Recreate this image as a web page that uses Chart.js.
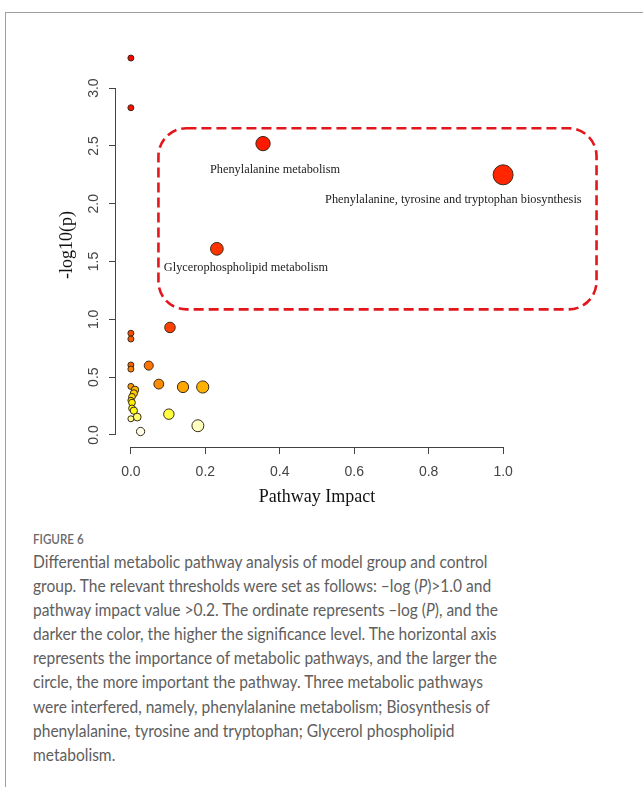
<!DOCTYPE html>
<html>
<head>
<meta charset="utf-8">
<script src="https://cdn.jsdelivr.net/npm/chart.js@4.4.1/dist/chart.umd.min.js"></script>
<style>
  html, body { margin: 0; padding: 0; background: #fff; }
  body { width: 643px; height: 787px; position: relative; overflow: hidden; }
  #frame { position: absolute; left: 5px; top: 12px; width: 660px; height: 800px;
           border-top: 1.5px solid #9e9e9e; border-left: 1.5px solid #9e9e9e; }
  #plot { position: absolute; left: 0; top: 0; }
  #figlabel { position: absolute; left: 33px; top: 531px; font: 600 13.5px Lato, sans-serif;
              color: #6a6a6a; transform-origin: 0 0; transform: scaleX(0.86); }
  #caption { position: absolute; left: 33px; top: 550px; font: 17px Lato, sans-serif;
             color: #5e5e5e; line-height: 24.1px; transform-origin: 0 0; transform: scaleX(0.914);
             white-space: nowrap; }
</style>
</head>
<body>
<div id="frame"></div>
<canvas id="plot" width="643" height="520"></canvas>
<div id="figlabel">FIGURE 6</div>
<div id="caption">
  <div>Differential metabolic pathway analysis of model group and control</div>
  <div>group. The relevant thresholds were set as follows: –log (<i>P</i>)&gt;1.0 and</div>
  <div>pathway impact value &gt;0.2. The ordinate represents –log (<i>P</i>), and the</div>
  <div>darker the color, the higher the significance level. The horizontal axis</div>
  <div>represents the importance of metabolic pathways, and the larger the</div>
  <div>circle, the more important the pathway. Three metabolic pathways</div>
  <div>were interfered, namely, phenylalanine metabolism; Biosynthesis of</div>
  <div>phenylalanine, tyrosine and tryptophan; Glycerol phospholipid</div>
  <div>metabolism.</div>
</div>
<script>
// Pathway topology analysis: impact (x) against -log10(p) (y)
const impact = [0, 0, 0.355, 1.0, 0.231, 0.105, 0, 0, 0, 0.048, 0, 0.075, 0, 0.14,
                0.193, 0.011, 0.008, 0.003, 0, 0.003, 0.003, 0.008, 0.102, 0.017, 0, 0.18, 0.026];
const logP   = [3.26, 2.83, 2.52, 2.25, 1.61, 0.93, 0.88, 0.83, 0.605, 0.60, 0.57, 0.44, 0.42, 0.415,
                0.415, 0.39, 0.36, 0.33, 0.30, 0.28, 0.23, 0.21, 0.18, 0.155, 0.14, 0.08, 0.03];

// Named pathways and the points they belong to
const highlightNames = ['Phenylalanine metabolism',
                        'Phenylalanine, tyrosine and tryptophan biosynthesis',
                        'Glycerophospholipid metabolism'];
const highlightIndex = [2, 3, 4];

// Axis ticks
const xTicks = [0, 0.2, 0.4, 0.6, 0.8, 1.0];
const yTicks = [0, 0.5, 1.0, 1.5, 2.0, 2.5, 3.0];

// Significance box (data units)
const boxX = [0.074, 1.251];
const boxY = [1.086, 2.653];

// R-style heat.colors(n)
function hsvToHex(h, s, v) {
  const i = Math.floor(h * 6), f = h * 6 - i;
  const p = v * (1 - s), q = v * (1 - f * s), t = v * (1 - (1 - f) * s);
  const m = [[v, t, p], [q, v, p], [p, v, t], [p, q, v], [t, p, v], [v, p, q]][i % 6];
  return '#' + m.map(c => Math.round(c * 255).toString(16).padStart(2, '0')).join('');
}
function heatColors(n) {
  const j = Math.floor(n / 4), i = n - j, out = [];
  for (let k = 0; k < i; k++) out.push(hsvToHex(i > 1 ? (k / (i - 1)) / 6 : 0, 1, 1));
  for (let k = 0; k < j; k++) {
    const s = j > 1 ? (1 - 1 / (2 * j)) + k * ((1 / (2 * j)) - (1 - 1 / (2 * j))) / (j - 1) : 0.5;
    out.push(hsvToHex(1 / 6, s, 1));
  }
  return out;
}
// darker colour for more significant pathways (rank by -log10 p)
const order = logP.map((v, i) => i).sort((a, b) => logP[b] - logP[a]);
const palette = heatColors(logP.length);
const pointColors = new Array(logP.length);
order.forEach((idx, rank) => { pointColors[idx] = palette[rank]; });

const points = impact.map((x, i) => ({ x: x, y: logP[i] }));

const axisColor = '#444';

const rAxes = {
  id: 'rAxes',
  afterDraw(chart) {
    const { ctx, scales: { x, y }, chartArea } = chart;
    ctx.save();
    ctx.strokeStyle = axisColor;
    ctx.lineWidth = 1;
    ctx.beginPath();
    ctx.moveTo(x.getPixelForValue(xTicks[0]), chartArea.bottom + 0.5);
    ctx.lineTo(x.getPixelForValue(xTicks[xTicks.length - 1]), chartArea.bottom + 0.5);
    ctx.moveTo(chartArea.left - 0.5, y.getPixelForValue(yTicks[0]));
    ctx.lineTo(chartArea.left - 0.5, y.getPixelForValue(yTicks[yTicks.length - 1]));
    ctx.stroke();

    // dashed box round the significant pathways
    const bx0 = x.getPixelForValue(boxX[0]), bx1 = x.getPixelForValue(boxX[1]);
    const by0 = y.getPixelForValue(boxY[1]), by1 = y.getPixelForValue(boxY[0]);
    ctx.strokeStyle = '#e3161b';
    ctx.lineWidth = 2.6;
    ctx.setLineDash([10, 5]);
    ctx.beginPath();
    ctx.roundRect(bx0, by0, bx1 - bx0, by1 - by0, 28);
    ctx.stroke();
    ctx.setLineDash([]);

    // pathway names
    ctx.fillStyle = '#222';
    ctx.font = '12.3px "Liberation Serif", serif';
    ctx.textAlign = 'left';
    ctx.textBaseline = 'middle';
    const offsets = [[-53, 26], [-178, 25], [-53, 19]];
    highlightIndex.forEach((idx, k) => {
      const px = x.getPixelForValue(impact[idx]);
      const py = y.getPixelForValue(logP[idx]);
      ctx.fillText(highlightNames[k], px + offsets[k][0], py + offsets[k][1]);
    });
    ctx.restore();
  }
};

new Chart(document.getElementById('plot'), {
  type: 'scatter',
  data: {
    datasets: [{
      data: points,
      pointRadius: c => 3 + 7 * Math.sqrt(impact[c.dataIndex]),
      pointHoverRadius: c => 3 + 7 * Math.sqrt(impact[c.dataIndex]),
      backgroundColor: c => pointColors[c.dataIndex],
      borderColor: '#3a2a1a',
      borderWidth: 1,
      clip: false
    }]
  },
  options: {
    responsive: false,
    animation: false,
    devicePixelRatio: 1,
    layout: { padding: { left: 0, top: 43, right: 125, bottom: 0 } },
    plugins: { legend: { display: false }, tooltip: { enabled: false } },
    scales: {
      x: {
        type: 'linear', min: -0.04, max: 1.04,
        afterBuildTicks: s => { s.ticks = xTicks.map(v => ({ value: v })); },
        afterFit: s => { s.height = 73; },
        border: { display: false },
        grid: { display: true, drawOnChartArea: false, drawTicks: true, tickLength: 7, color: axisColor },
        ticks: { padding: 10, color: '#444', font: { family: '"Liberation Sans", Arial, sans-serif', size: 14 },
                 callback: v => v.toFixed(1), maxRotation: 0 },
        title: { display: true, text: 'Pathway Impact', color: '#111',
                 font: { family: '"Liberation Serif", serif', size: 18 }, padding: { top: 0, bottom: 12 } }
      },
      y: {
        type: 'linear', min: -0.104, max: 3.39,
        afterBuildTicks: s => { s.ticks = yTicks.map(v => ({ value: v })); },
        afterFit: s => { s.width = 116; },
        border: { display: false },
        grid: { display: true, drawOnChartArea: false, drawTicks: true, tickLength: 7, color: axisColor },
        ticks: { padding: 5, color: '#444', font: { family: '"Liberation Sans", Arial, sans-serif', size: 14 },
                 callback: v => v.toFixed(1), minRotation: 90, maxRotation: 90, crossAlign: 'center' },
        title: { display: true, text: '-log10(p)', color: '#111',
                 font: { family: '"Liberation Serif", serif', size: 18 }, padding: { top: 56, bottom: 0 } }
      }
    }
  },
  plugins: [rAxes]
});
</script>
</body>
</html>
